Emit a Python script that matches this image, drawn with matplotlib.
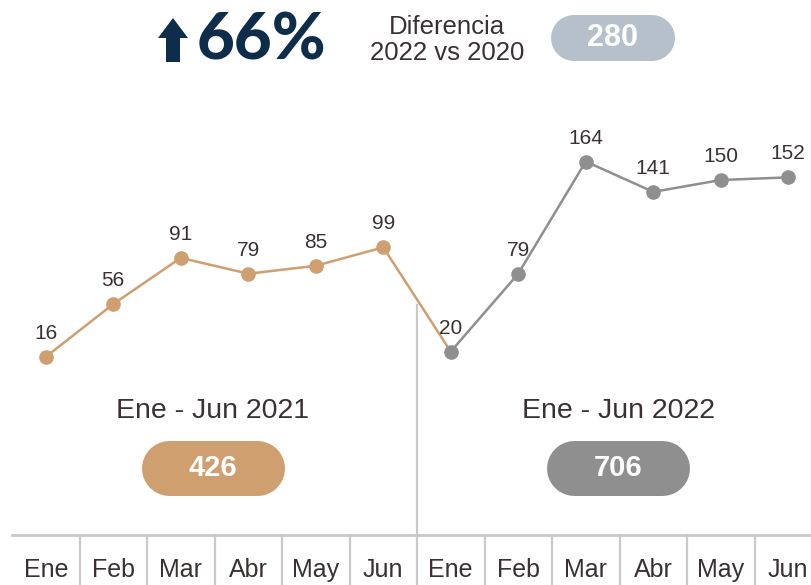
import matplotlib
matplotlib.use("Agg")
import matplotlib.pyplot as plt
import matplotlib.patches as mpatches
import matplotlib.transforms as mtransforms

# ===== data =====
months = ["Ene", "Feb", "Mar", "Abr", "May", "Jun"]
vals_2021 = [16, 56, 91, 79, 85, 99]
vals_2022 = [20, 79, 164, 141, 150, 152]
total_2021 = 426
total_2022 = 706
diff_total = 280
pct_change = 66
period_labels = ["Ene - Jun 2021", "Ene - Jun 2022"]

TAN = "#cf9f6f"
GRAY = "#8f8f8f"
NAVY = "#0e2d4b"
TXT = "#3a3232"
RULE = "#c9c9c9"
PILL_BLUE = "#b5c0ca"

W, H = 811, 585
FONT = "Liberation Sans"

fig = plt.figure(figsize=(W / 100, H / 100), dpi=100)
# pixel coords, origin top-left
px = mtransforms.Affine2D().scale(1 / W, -1 / H).translate(0, 1) + fig.transFigure

# axes over whole figure; category i sits at pixel 12 + 67.5*(i+0.5)
ax = fig.add_axes([0, 0, 1, 1])
ax.set_xlim(-12 / 67.5 - 0.5, (W - 12) / 67.5 - 0.5)
ax.set_ylim((378 - H) / 1.32, 378 / 1.32)
ax.axis("off")


def ypx(p):
    return (378 - p) / 1.32


x_all = list(range(12))
labels_all = months + months
vals_all = vals_2021 + vals_2022

# ===== rules =====
base_y = ypx(535)
ax.plot([-0.5, 11.5], [base_y, base_y], color=RULE, lw=2, clip_on=False, zorder=1)
for i in range(1, 12):
    top = ypx(305) if i == 6 else base_y
    ax.plot([i - 0.5, i - 0.5], [top, ypx(H)], color=RULE, lw=1.6, zorder=1)

# ===== lines =====
ax.plot(x_all[:7], vals_2021 + vals_2022[:1], color=TAN, lw=1.8, zorder=2)
ax.plot(x_all[:6], vals_2021, "o", color=TAN, ms=9.5, zorder=3)
ax.plot(x_all[6:], vals_2022, "o-", color=GRAY, lw=1.8, ms=9.5, zorder=4)

for x, v in zip(x_all, vals_all):
    ax.annotate(str(v), (x, v), xytext=(0, 10), textcoords="offset points",
                ha="center", va="bottom", fontsize=15, color=TXT, family=FONT)

for x, lab in zip(x_all, labels_all):
    ax.text(x, ypx(570), lab, ha="center", va="center", fontsize=18,
            color=TXT, family=FONT, clip_on=False)


# ===== period captions and pills =====
def pill(cx, cy, w, h, color, text, size):
    # thick line with round caps -> stadium shape
    lw_pt = h * 72 / 100
    fig.add_artist(plt.Line2D([cx - (w - h) / 2, cx + (w - h) / 2], [cy, cy],
                              transform=px, color=color, lw=lw_pt,
                              solid_capstyle="round"))
    fig.text(cx, cy, text, transform=px, ha="center", va="center",
             fontsize=size, fontweight="bold", color="white", family=FONT)


for cx, lab, tot, col in zip([213, 618], period_labels, [total_2021, total_2022], [TAN, GRAY]):
    fig.text(cx, 411, lab, transform=px, ha="center", va="center",
             fontsize=20.5, color=TXT, family=FONT)
    pill(cx, 468, 143, 55, col, str(tot), 21)

# ===== header =====
arrow = mpatches.Polygon([(166, 62), (180, 62), (180, 38), (188, 38), (173, 18),
                          (158, 38), (166, 38)], closed=True, transform=px,
                         facecolor=NAVY, edgecolor="none")
fig.patches.append(arrow)
fig.text(197, 41, "%d%%" % pct_change, transform=px, ha="left", va="center",
         fontsize=47, fontweight="black", color=NAVY, family="Lato")
fig.text(447, 40, "Diferencia\n2022 vs 2020", transform=px, ha="center", va="center",
         fontsize=18.5, color=TXT, family=FONT, linespacing=1.12)
pill(613, 38, 124, 46, PILL_BLUE, str(diff_total), 22)

fig.savefig("out.png", dpi=100)
